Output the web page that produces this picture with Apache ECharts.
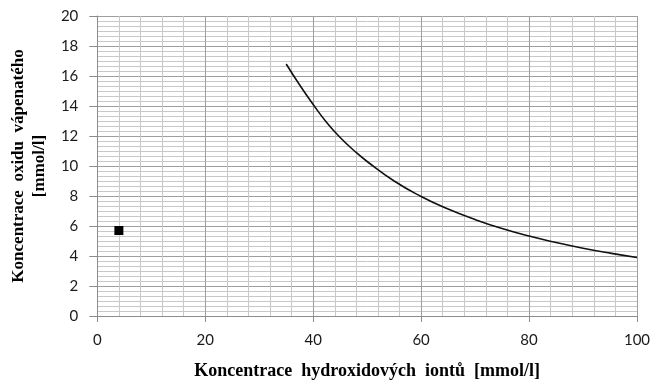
<!DOCTYPE html>
<html><head><meta charset="utf-8">
<script src="https://cdn.jsdelivr.net/npm/echarts@6/dist/echarts.min.js"></script>
<style>html,body{margin:0;padding:0;background:#fff}#c{width:654px;height:385px}</style>
</head><body><div id="c"></div>
<script>
const curveX = [35, 37.5, 40, 42.5, 45, 47.5, 50, 55, 60, 65, 70, 75, 80, 85, 90, 95, 100];
const curveY = [16.8, 15.4, 14.1, 12.9, 11.9, 11.05, 10.3, 9.0, 7.97, 7.13, 6.43, 5.83, 5.33, 4.90, 4.52, 4.19, 3.9];
const pointX = [4];
const pointY = [5.7];
const xTitle = 'Koncentrace  hydroxidových  iontů  [mmol/l]';
const yTitle = 'Koncentrace  oxidu  vápenatého\n[mmol/l]';

const chart = echarts.init(document.getElementById('c'), null, {renderer: 'canvas'});
const labelFont = {fontFamily: 'Lato', fontSize: 15, color: '#1a1a1a'};
chart.setOption({
  animation: false,
  grid: {left: 96, right: 17, top: 16, bottom: 68},
  xAxis: {
    type: 'value', min: 0, max: 100, interval: 20,
    name: xTitle, nameLocation: 'middle', nameGap: 46,
    nameTextStyle: {fontFamily: 'Liberation Serif', fontWeight: 'bold', fontSize: 18, color: '#000'},
    axisLine: {show: true, lineStyle: {color: '#8c8c8c', width: 1}},
    axisTick: {show: true, length: 6, lineStyle: {color: '#8c8c8c'}},
    axisLabel: Object.assign({margin: 17}, labelFont),
    splitLine: {show: true, lineStyle: {color: '#9e9e9e', width: 1}},
    minorTick: {show: false, splitNumber: 5},
    minorSplitLine: {show: true, lineStyle: {color: '#c8c8c8', width: 1}}
  },
  yAxis: {
    type: 'value', min: 0, max: 20, interval: 2,
    name: yTitle, nameLocation: 'middle', nameGap: 43,
    nameTextStyle: {fontFamily: 'Liberation Serif', fontWeight: 'bold', fontSize: 17, lineHeight: 21, color: '#000'},
    axisLine: {show: true, lineStyle: {color: '#8c8c8c', width: 1}},
    axisTick: {show: true, length: 8, lineStyle: {color: '#8c8c8c'}},
    axisLabel: Object.assign({margin: 19}, labelFont),
    splitLine: {show: true, lineStyle: {color: '#9e9e9e', width: 1}},
    minorTick: {show: false, splitNumber: 6},
    minorSplitLine: {show: true, lineStyle: {color: '#c8c8c8', width: 1}}
  },
  series: [
    {
      type: 'line', data: curveX.map((x, i) => [x, curveY[i]]),
      smooth: true, showSymbol: false, symbol: 'none',
      lineStyle: {color: '#111', width: 1.6}
    },
    {
      type: 'scatter', data: pointX.map((x, i) => [x, pointY[i]]),
      symbol: 'rect', symbolSize: 9, itemStyle: {color: '#000', opacity: 1}
    }
  ]
});
</script></body></html>
